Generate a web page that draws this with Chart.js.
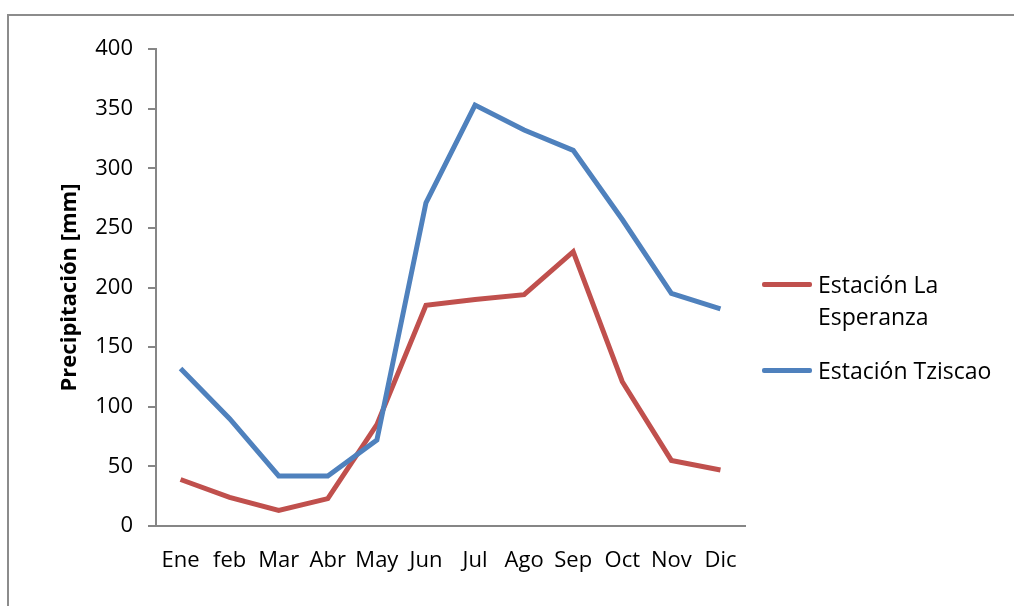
<!DOCTYPE html>
<html lang="es">
<head>
    <meta charset="UTF-8">
    <title>Precipitación mensual</title>
    <script src="https://cdn.jsdelivr.net/npm/chart.js"></script>
    <style>
        html, body { margin: 0; padding: 0; background: #fff; overflow: hidden; }
        .wrap { position: relative; width: 1014px; height: 606px; overflow: hidden; }
        .frame { position: absolute; left: 7px; top: 14px; width: 1100px; height: 700px; border: 2px solid #8c8c8c; box-sizing: border-box; }
        canvas { position: absolute; left: 0; top: 0; }
        .legend { position: absolute; left: 762px; top: 268px; font-family: "Open Sans", sans-serif; font-size: 23px; color: #000; }
        .legend-item { position: absolute; display: flex; align-items: flex-start; white-space: nowrap; }
        .legend-line { width: 50px; height: 5px; margin-right: 6px; margin-top: 14px; border-radius: 2px; }
    </style>
</head>
<body>
    <div class="wrap">
        <div class="frame"></div>
        <canvas id="rainChart" width="1014" height="606"></canvas>
        <div class="legend" id="legend"></div>
    </div>

    <script>
        // Datos
        const meses = ['Ene', 'feb', 'Mar', 'Abr', 'May', 'Jun', 'Jul', 'Ago', 'Sep', 'Oct', 'Nov', 'Dic'];
        const esperanza = [39, 24, 13, 23, 85, 185, 190, 194, 230, 121, 55, 47];
        const tziscao = [132, 90, 42, 42, 72, 271, 353, 332, 315, 257, 195, 182];
        const yTicks = [0, 50, 100, 150, 200, 250, 300, 350, 400];

        const axisColor = '#868686';
        const fontFamily = '"Open Sans", sans-serif';

        const ctx = document.getElementById('rainChart').getContext('2d');
        const chart = new Chart(ctx, {
            type: 'line',
            data: {
                labels: meses,
                datasets: [
                    {
                        label: 'Estación La Esperanza',
                        legendText: ['Estación La', 'Esperanza'],
                        data: esperanza,
                        borderColor: '#C0504D',
                        borderWidth: 5,
                        pointRadius: 0,
                        tension: 0,
                        order: 1
                    },
                    {
                        label: 'Estación Tziscao',
                        legendText: ['Estación Tziscao'],
                        data: tziscao,
                        borderColor: '#4F81BD',
                        borderWidth: 5,
                        pointRadius: 0,
                        tension: 0,
                        order: 0
                    }
                ]
            },
            options: {
                responsive: false,
                animation: false,
                layout: { padding: { left: 57, top: 49, right: 269, bottom: 20 } },
                plugins: {
                    legend: { display: false },
                    tooltip: { enabled: false }
                },
                scales: {
                    x: {
                        offset: true,
                        grid: { display: false },
                        border: { color: axisColor, width: 2 },
                        ticks: { font: { family: fontFamily, size: 22 }, color: '#000', padding: 14, maxRotation: 0, autoSkip: false },
                        afterFit: function(scale) { scale.height = 60; }
                    },
                    y: {
                        min: 0,
                        max: 400,
                        afterBuildTicks: function(scale) {
                            scale.ticks = yTicks.map(v => ({ value: v }));
                        },
                        grid: { drawOnChartArea: false, tickLength: 8, color: axisColor, lineWidth: 2 },
                        border: { color: axisColor, width: 2 },
                        ticks: { font: { family: fontFamily, size: 22 }, color: '#000', padding: 15 },
                        title: {
                            display: true,
                            text: 'Precipitación [mm]',
                            font: { family: fontFamily, size: 22, weight: 'bold' },
                            color: '#000',
                            padding: 0
                        },
                        afterFit: function(scale) { scale.width = 99; }
                    }
                }
            }
        });

        // Leyenda
        const legend = document.getElementById('legend');
        const legendTops = [0, 86];
        chart.data.datasets.forEach(function(ds, i) {
            const item = document.createElement('div');
            item.className = 'legend-item';
            item.style.top = legendTops[i] + 'px';
            item.innerHTML = '<span class="legend-line" style="background:' + ds.borderColor + '"></span>' +
                '<span style="line-height:32px">' + ds.legendText.join('<br>') + '</span>';
            legend.appendChild(item);
        });
    </script>
</body>
</html>
